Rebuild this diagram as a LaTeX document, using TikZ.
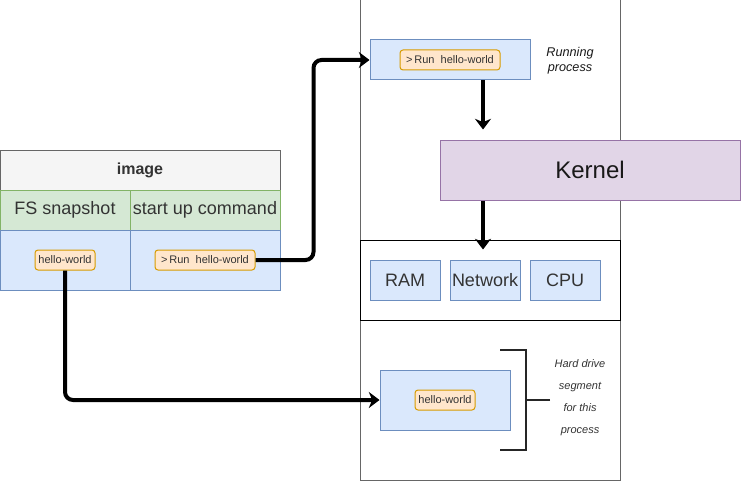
\documentclass[tikz,border=0pt]{standalone}
\usepackage{fontspec}
\setmainfont{Liberation Sans}
\usepackage{tikz}
\usetikzlibrary{arrows.meta}
\usetikzlibrary{positioning}

\definecolor{bluefill}{HTML}{DAE8FC}
\definecolor{blueedge}{HTML}{6C8EBF}
\definecolor{greenfill}{HTML}{D5E8D4}
\definecolor{greenedge}{HTML}{82B366}
\definecolor{orangefill}{HTML}{FFE6CC}
\definecolor{orangeedge}{HTML}{D79B00}
\definecolor{purplefill}{HTML}{E1D5E7}
\definecolor{purpleedge}{HTML}{9673A6}
\definecolor{headfill}{HTML}{F5F5F5}
\definecolor{greyedge}{HTML}{666666}
\definecolor{txt}{HTML}{333333}

\newcommand{\bigtxt}{\fontsize{13.5}{16}\selectfont}
\newcommand{\smalltxt}{\fontsize{8.25}{10}\selectfont}

\tikzset{
  cell/.style={rectangle,inner sep=0pt,line width=0.75pt,text=txt},
  bluebox/.style={cell,draw=blueedge,fill=bluefill},
  greenbox/.style={cell,draw=greenedge,fill=greenfill},
  tag/.style={cell,draw=orangeedge,fill=orangefill,rounded corners=2.25pt,
    minimum width=45pt,minimum height=15pt,font=\smalltxt},
  flow/.style={-{Stealth[length=8pt,width=12pt,inset=2.5pt]},line width=3pt,rounded corners=6pt}
}

\begin{document}
\begin{tikzpicture}[x=0.75pt,y=-0.75pt]
	\useasboundingbox (0,0) rectangle (741,481);

	%the image table
	\node[cell,draw=greyedge,fill=headfill,minimum width=210pt,minimum height=30pt,
	  font=\fontsize{12}{14}\selectfont\bfseries] at (140,170) (imghead) {image};
	\node[greenbox,minimum width=97.5pt,minimum height=30pt,font=\bigtxt] at (65,210) (fscell) {FS snapshot};
	\node[greenbox,minimum width=112.5pt,minimum height=30pt,font=\bigtxt] at (205,210) (cmdcell) {start up command};
	\node[bluebox,minimum width=97.5pt,minimum height=45pt] at (65,260) (fsval) {};
	\node[bluebox,minimum width=112.5pt,minimum height=45pt] at (205,260) (cmdval) {};
	\node[tag] at (fsval.center) (hello1) {hello-world};
	\node[tag,minimum width=75pt] at (cmdval.center) (run1) {>\,Run\ \ hello-world};

	%the process side
	\node[cell,draw=greyedge,minimum width=195pt,minimum height=360pt] at (490,240) (proc) {};
	\node[cell,draw=black,fill=white,minimum width=195pt,minimum height=60pt] at (490,280) (hw) {};

	\node[bluebox,minimum width=120pt,minimum height=30pt] at (450,60) (runbox) {};
	\node[tag,minimum width=75pt] at (runbox.center) (run2) {>\,Run\ \ hello-world};
	\node[align=center,font=\fontsize{9.5}{11.5}\selectfont\itshape,text=black!90,inner sep=0pt] at (570,61) (runlabel) {Running\\process};

	\node[cell,draw=purpleedge,fill=purplefill,minimum width=225pt,minimum height=45pt,
	  text=black!90,font=\fontsize{18}{20}\selectfont] at (590,170) (kernel) {Kernel};

	\node[bluebox,minimum width=52.5pt,minimum height=30pt,font=\bigtxt] at (405,280) (ram) {RAM};
	\node[bluebox,minimum width=52.5pt,minimum height=30pt,font=\bigtxt] at (485,280) (net) {Network};
	\node[bluebox,minimum width=52.5pt,minimum height=30pt,font=\bigtxt] at (565,280) (cpu) {CPU};

	\node[bluebox,minimum width=97.5pt,minimum height=45pt] at (445,400) (hdbox) {};
	\node[tag] at (hdbox.center) (hello2) {hello-world};

	%bracket and its label
	\coordinate (brtop) at (500,350);
	\coordinate (brbot) at (500,450);
	\coordinate (brmid) at (550,400);
	\draw[line width=1.5pt,black!85] (brtop) -- ++(26,0) |- (brbot);
	\draw[line width=1.5pt,black!85] (brmid) -- ++(-24,0);
	\node[align=center,font=\fontsize{8.25}{16.5}\selectfont\itshape,text=txt,inner sep=0pt]
	  at (580,398) (hdlabel) {Hard drive\\segment\\for this\\process};

	%arrows
	\coordinate (kx) at (483,0);
	\draw[flow] (run1.east) -- ++(58,0) |- (runbox.west);
	\draw[flow] (hello1.south) |- (hdbox.west);
	\draw[flow,shorten >=7.5pt] (runbox.south -| kx) -- (kernel.north -| kx);
	\draw[flow] (kernel.south -| kx) -- ([yshift=-7.5pt]hw.north -| kx);
\end{tikzpicture}
\end{document}
